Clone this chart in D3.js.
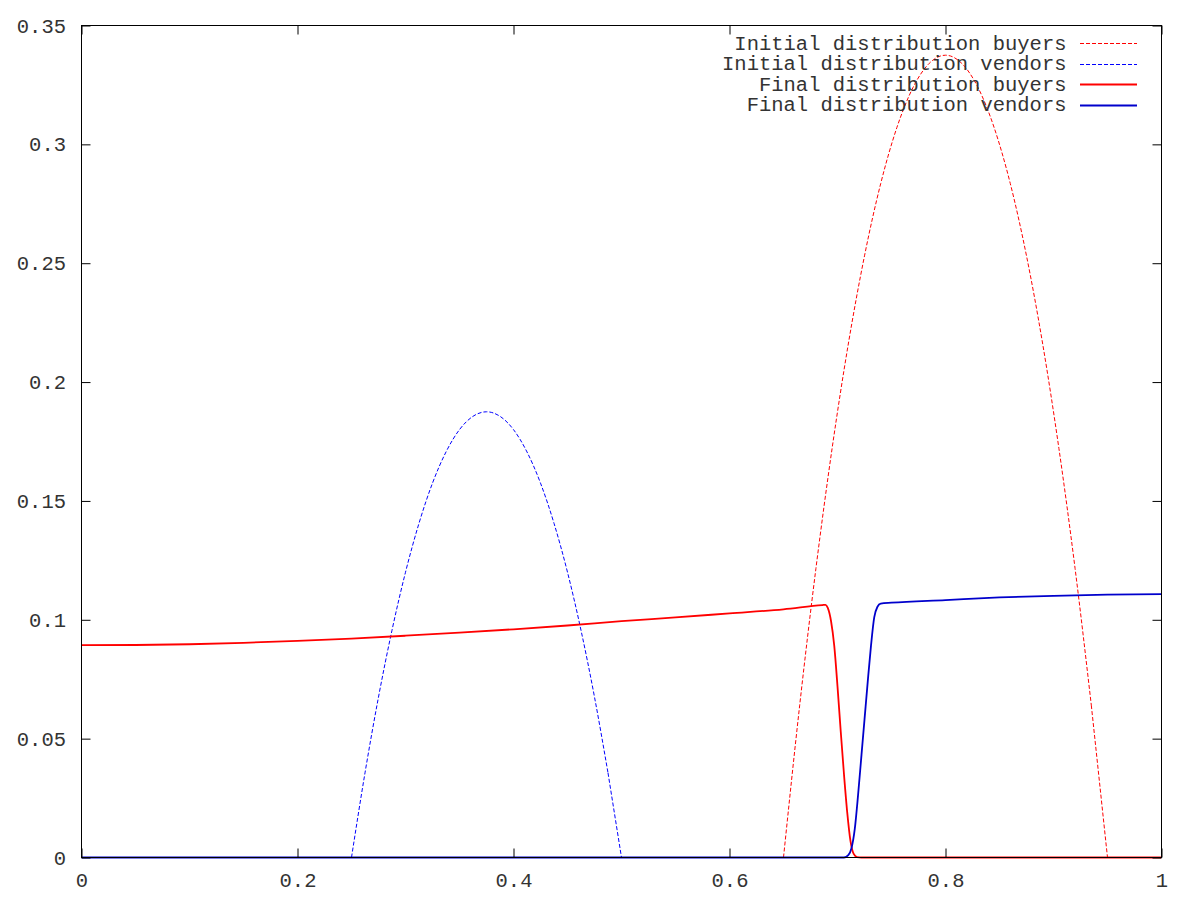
<!DOCTYPE html>
<html>
<head>
<meta charset="utf-8">
<script src="https://cdn.jsdelivr.net/npm/d3@7"></script>
<style>
  html, body { margin: 0; padding: 0; background: #fff; }
  svg { display: block; }
</style>
</head>
<body>
<svg id="chart" width="1200" height="900"></svg>
<script>
// ---------------- data ----------------
const seriesNames = [
  "Initial distribution buyers",
  "Initial distribution vendors",
  "Final distribution buyers",
  "Final distribution vendors"
];

const buyersInitX = [0, 0.65, 0.665, 0.68, 0.695, 0.71, 0.725, 0.74, 0.755, 0.77, 0.785, 0.8,
                     0.815, 0.83, 0.845, 0.86, 0.875, 0.89, 0.905, 0.92, 0.935, 0.95, 1];
const buyersInitY = [0, 0, 0.0641, 0.1215, 0.1721, 0.216, 0.2531, 0.2835, 0.3071, 0.324, 0.3341, 0.3375,
                     0.3341, 0.324, 0.3071, 0.2835, 0.2531, 0.216, 0.1721, 0.1215, 0.0641, 0, 0];

const vendorsInitX = [0, 0.25, 0.2625, 0.275, 0.2875, 0.3, 0.3125, 0.325, 0.3375, 0.35, 0.3625, 0.375,
                      0.3875, 0.4, 0.4125, 0.425, 0.4375, 0.45, 0.4625, 0.475, 0.4875, 0.5, 1];
const vendorsInitY = [0, 0, 0.0356, 0.0675, 0.0956, 0.12, 0.1406, 0.1575, 0.1706, 0.18, 0.1856, 0.1875,
                      0.1856, 0.18, 0.1706, 0.1575, 0.1406, 0.12, 0.0956, 0.0675, 0.0356, 0, 0];

const buyersFinalX = [0, 0.05, 0.1, 0.15, 0.2, 0.25, 0.3, 0.35, 0.4, 0.45, 0.5, 0.55, 0.6, 0.65,
                      0.686, 0.689, 0.691, 0.694, 0.697, 0.7, 0.703, 0.706, 0.709, 0.712, 0.715, 0.718, 0.722, 1];
const buyersFinalY = [0.0893, 0.0894, 0.0897, 0.0903, 0.0911, 0.0921, 0.0933, 0.0946, 0.0960, 0.0976, 0.0994, 0.1010, 0.1027, 0.1044,
                      0.1062, 0.1063, 0.1050, 0.0995, 0.0890, 0.0720, 0.0530, 0.0350, 0.0190, 0.0070, 0.0015, 0.0002, 0, 0];

const vendorsFinalX = [0, 0.706, 0.710, 0.713, 0.716, 0.719, 0.722, 0.725, 0.728, 0.731, 0.734, 0.737, 0.740,
                       0.750, 0.8, 0.85, 0.9, 0.95, 1];
const vendorsFinalY = [0, 0, 0.0010, 0.0040, 0.0120, 0.0260, 0.0420, 0.0580, 0.0740, 0.0890, 0.1010, 0.1055, 0.1068,
                       0.1072, 0.1083, 0.1094, 0.1101, 0.1106, 0.1108];

const xTickValues = [0, 0.2, 0.4, 0.6, 0.8, 1];
const xTickLabels = ["0", "0.2", "0.4", "0.6", "0.8", "1"];
const yTickValues = [0, 0.05, 0.1, 0.15, 0.2, 0.25, 0.3, 0.35];
const yTickLabels = ["0", "0.05", "0.1", "0.15", "0.2", "0.25", "0.3", "0.35"];

// ---------------- drawing ----------------
(function () {
const svg = d3.select("#chart");
const pL = 81.5, pR = 1161.5, pT = 25.5, pB = 857.5;
const FONT = "'Liberation Mono', 'DejaVu Sans Mono', monospace";
const FS = 20.5;
const TEXT_COLOR = "#333";

const x = d3.scaleLinear().domain([0, 1]).range([pL, pR]);
const y = d3.scaleLinear().domain([0, 0.35]).range([pB, pT]);

const styles = [
  { color: "#ff0000", width: 1, dash: "4,2" },
  { color: "#0000ff", width: 1, dash: "4,2" },
  { color: "#ff0000", width: 1.8, dash: null },
  { color: "#0000cc", width: 1.8, dash: null }
];

const series = [
  { xs: buyersInitX, ys: buyersInitY },
  { xs: vendorsInitX, ys: vendorsInitY },
  { xs: buyersFinalX, ys: buyersFinalY },
  { xs: vendorsFinalX, ys: vendorsFinalY }
];

svg.append("clipPath").attr("id", "clip").append("rect")
  .attr("x", pL).attr("y", pT - 2).attr("width", pR - pL).attr("height", pB - pT + 4);
const g = svg.append("g").attr("clip-path", "url(#clip)");

const smooth = d3.line().x(d => x(d[0])).y(d => y(d[1])).curve(d3.curveMonotoneX);
const straight = d3.line().x(d => x(d[0])).y(d => y(d[1]));

series.forEach((s, i) => {
  const pts = s.xs.map((v, k) => [v, s.ys[k]]);
  const st = styles[i];
  if (i < 2) {
    const first = pts.findIndex(p => p[1] > 0) - 1;
    let last = pts.length - 1;
    while (last > 0 && pts[last - 1][1] === 0) last--;
    const segs = [
      straight(pts.slice(0, first + 1)),
      smooth(pts.slice(first, last)),
      straight(pts.slice(last - 1))
    ];
    segs.forEach(d => {
      g.append("path").attr("d", d).attr("fill", "none")
        .attr("stroke", st.color).attr("stroke-width", st.width)
        .attr("stroke-dasharray", st.dash);
    });
  } else {
    g.append("path").attr("d", smooth(pts)).attr("fill", "none")
      .attr("stroke", st.color).attr("stroke-width", st.width)
      .attr("stroke-linejoin", "round");
  }
});

const TICK = 9;
const xAxisB = d3.axisBottom(x).tickValues(xTickValues)
  .tickFormat((d, i) => xTickLabels[i]).tickSizeInner(-TICK).tickSizeOuter(0).tickPadding(15);
const yAxisL = d3.axisLeft(y).tickValues(yTickValues)
  .tickFormat((d, i) => yTickLabels[i]).tickSizeInner(-TICK).tickSizeOuter(0).tickPadding(15.5);
const xAxisT = d3.axisTop(x).tickValues(xTickValues).tickFormat("").tickSizeInner(-TICK).tickSizeOuter(0);
const yAxisR = d3.axisRight(y).tickValues(yTickValues).tickFormat("").tickSizeInner(-TICK).tickSizeOuter(0);

function styleAxis(sel) {
  sel.select(".domain").remove();
  sel.selectAll(".tick line").attr("stroke", "#000").attr("stroke-width", 1);
  sel.selectAll(".tick text").attr("fill", TEXT_COLOR).style("font-family", FONT).style("font-size", FS + "px");
}
svg.append("g").attr("transform", `translate(0,${pB})`).call(xAxisB).call(styleAxis);
svg.append("g").attr("transform", `translate(${pL},0)`).call(yAxisL).call(styleAxis);
svg.append("g").attr("transform", `translate(0,${pT})`).call(xAxisT).call(styleAxis);
svg.append("g").attr("transform", `translate(${pR},0)`).call(yAxisR).call(styleAxis);

svg.append("rect").attr("x", pL).attr("y", pT).attr("width", pR - pL).attr("height", pB - pT)
  .attr("fill", "none").attr("stroke", "#000").attr("stroke-width", 1);

const legTextX = 1066.5, legLineX1 = 1080, legLineX2 = 1137;
const legY0 = 43, legDY = 20.5;
seriesNames.forEach((name, i) => {
  const yy = legY0 + i * legDY;
  svg.append("text").attr("x", legTextX).attr("y", yy).attr("dy", "0.32em")
    .attr("text-anchor", "end").attr("fill", TEXT_COLOR)
    .style("font-family", FONT).style("font-size", FS + "px").text(name);
  const st = styles[i];
  svg.append("line").attr("x1", legLineX1).attr("x2", legLineX2)
    .attr("y1", Math.round(yy) + 0.5).attr("y2", Math.round(yy) + 0.5)
    .attr("stroke", st.color).attr("stroke-width", st.width)
    .attr("stroke-dasharray", st.dash);
});
})();
</script>
</body>
</html>
